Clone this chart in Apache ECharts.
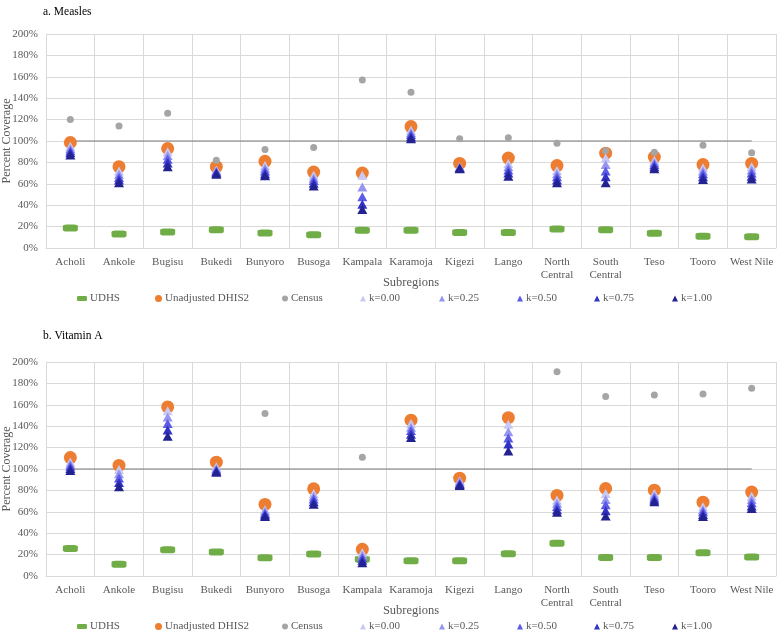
<!DOCTYPE html>
<html>
<head>
<meta charset="utf-8">
<script src="https://cdn.jsdelivr.net/npm/echarts@6/dist/echarts.min.js"></script>
<style>
html,body{margin:0;padding:0;background:#fff;}
#chart{width:778px;height:633px;}
</style>
</head>
<body>
<div id="chart"></div>
<script>
const categories = ['Acholi','Ankole','Bugisu','Bukedi','Bunyoro','Busoga','Kampala','Karamoja','Kigezi','Lango','North\nCentral','South\nCentral','Teso','Tooro','West Nile'];
const yTicks = [0,20,40,60,80,100,120,140,160,180,200];
const seriesNames = ['UDHS','Unadjusted DHIS2','Census','k=0.00','k=0.25','k=0.50','k=0.75','k=1.00'];
const panelTitles = ['a. Measles','b. Vitamin A'];
const targetValue = 100;

// a. Measles
const udhsM   = [18.7, 13, 15, 17, 14, 12.5, 16.5, 16.5, 14.6, 14.6, 17.7, 17, 13.7, 11, 10.6];
const dhisM   = [98.6, 76, 93, 76, 81, 71, 70, 113.5, 79, 84, 77, 88.6, 85, 78, 79];
const censusM = [120, 114, 126, 82, 92, 94, 157, 145.6, 102, 103, 98, 91, 89.6, 96, 89];
const k000M = [95, 72, 90, 73, 77, 68, 68, 110, 76, 79, 72.5, 84, 82, 75, 76];
const k025M = [93, 69, 86.5, 72, 74.5, 65.5, 57, 108, 75.5, 76, 69.5, 78, 80, 72, 73];
const k050M = [91, 66, 83, 71, 72, 63, 48, 106, 75, 73, 66.5, 72, 78, 69.5, 70];
const k075M = [89, 63.5, 79.5, 70, 69.5, 60.5, 41, 104, 74.5, 70, 63.5, 66.5, 76, 66.5, 67];
const k100M = [87, 61, 76, 69, 67.5, 58, 36, 102, 74, 67, 61, 61, 74, 64, 64.5];

// b. Vitamin A
const udhsV   = [25.8, 10.9, 24.6, 22.4, 17.1, 20.5, 15.7, 14.3, 14.3, 20.8, 30.5, 17.4, 17.4, 21.8, 17.7];
const dhisV   = [110.7, 103.3, 158, 106.4, 66.9, 81.5, 24.9, 145.6, 91.4, 148, 75.3, 81.8, 80.2, 69, 78.4];
const censusV = [null, null, null, null, 151.8, null, 111, null, null, null, 191, 167.7, 169.2, 170, 175.4];
const k000V = [106.5, 99.5, 154.5, 102, 62, 77, 21.8, 142.5, 89, 141.8, 71, 77, 77, 64.7, 74.6];
const k025V = [104.5, 95.5, 148.5, 100.5, 60.5, 74.5, 19.5, 139, 88, 134.8, 68, 71.5, 75, 62, 71.5];
const k050V = [102.5, 91.5, 142.5, 99, 58.5, 72, 17, 136, 86.5, 129, 65, 66.5, 73, 60, 68.5];
const k075V = [100.5, 87.5, 136.5, 98, 57, 69.5, 14.7, 132.5, 85.5, 123.4, 62, 61, 71, 57.5, 65.5];
const k100V = [98.5, 83.5, 130.5, 97, 55.5, 67, 12.4, 129.5, 84.5, 116.8, 59.5, 56, 69.5, 55.5, 63];

const panelData = [
  [udhsM, dhisM, censusM, k000M, k025M, k050M, k075M, k100M],
  [udhsV, dhisV, censusV, k000V, k025V, k050V, k075V, k100V]
];

const FONT = 'Liberation Serif';
const TXT = '#595959';
const styles = [
  {symbol:'roundRect', size:[15,7], color:'#70ad47', legendW:10, legendH:5},
  {symbol:'circle', size:13, color:'#ed7d31', legendW:7, legendH:7},
  {symbol:'circle', size:7, color:'#a5a5a5', legendW:6, legendH:6},
  {symbol:'triangle', size:[10,9], color:'#c9c9f5', legendW:6, legendH:6},
  {symbol:'triangle', size:[10,9], color:'#9696f0', legendW:6, legendH:6},
  {symbol:'triangle', size:[10,9], color:'#5b5be6', legendW:6, legendH:6},
  {symbol:'triangle', size:[10,9], color:'#3232c4', legendW:6, legendH:6},
  {symbol:'triangle', size:[10,9], color:'#222290', legendW:6, legendH:6}
];
const legendLeft = [77, 155, 282, 360, 439, 517, 594, 672];
const gridTop = [34, 362];
const gridH = 214;
const legendTop = [293, 621];
const titleTop = [1, 325];

const grids = [], xAxes = [], yAxes = [], series = [], legends = [], titles = [];
for (let p = 0; p < 2; p++) {
  grids.push({left:46, right:2, top:gridTop[p], height:gridH, containLabel:false, outerBoundsMode:'none'});
  xAxes.push({
    type:'category', gridIndex:p, data:categories, boundaryGap:true,
    axisLine:{show:true, lineStyle:{color:'#d9d9d9'}},
    axisTick:{show:false},
    splitLine:{show:true, lineStyle:{color:'#d9d9d9'}},
    axisLabel:{interval:0, color:TXT, fontFamily:FONT, fontSize:11, margin:8, lineHeight:13},
    name:'Subregions', nameLocation:'middle', nameGap:28, nameMoveOverlap:false,
    nameTextStyle:{color:TXT, fontFamily:FONT, fontSize:12.5}
  });
  yAxes.push({
    type:'value', gridIndex:p, min:yTicks[0], max:yTicks[yTicks.length-1], interval:yTicks[1]-yTicks[0],
    axisLine:{show:false}, axisTick:{show:false},
    splitLine:{show:true, lineStyle:{color:'#d9d9d9'}},
    axisLabel:{formatter:'{value}%', color:TXT, fontFamily:FONT, fontSize:11, margin:8},
    name:'Percent Coverage', nameLocation:'middle', nameGap:33, nameRotate:90, nameMoveOverlap:false,
    nameTextStyle:{color:TXT, fontFamily:FONT, fontSize:12}
  });
  titles.push({text:panelTitles[p], left:38, top:titleTop[p],
    textStyle:{fontFamily:FONT, fontSize:11.5, fontWeight:'normal', color:'#000'}});
  series.push({
    name:'target', type:'line', xAxisIndex:p, yAxisIndex:p,
    data:categories.map(() => targetValue), symbol:'none', silent:true,
    lineStyle:{color:'#7f7f7f', width:1.2}, z:1
  });
  for (let s = 0; s < seriesNames.length; s++) {
    const st = styles[s];
    series.push({
      name:seriesNames[s], type:'scatter', xAxisIndex:p, yAxisIndex:p,
      data:panelData[p][s], symbol:st.symbol, symbolSize:st.size,
      itemStyle:{color:st.color, opacity:1}, z:2+s
    });
    legends.push({
      data:[{name:seriesNames[s], icon:st.symbol}],
      left:legendLeft[s], top:legendTop[p], itemWidth:st.legendW, itemHeight:st.legendH,
      itemGap:0, padding:0, selectedMode:false,
      textStyle:{color:TXT, fontFamily:FONT, fontSize:11, padding:[0,0,0,-2]}
    });
  }
}

const chart = echarts.init(document.getElementById('chart'), null, {renderer:'canvas'});
chart.setOption({
  animation:false,
  backgroundColor:'#fff',
  title:titles,
  grid:grids,
  xAxis:xAxes,
  yAxis:yAxes,
  legend:legends,
  series:series
});
</script>
</body>
</html>
